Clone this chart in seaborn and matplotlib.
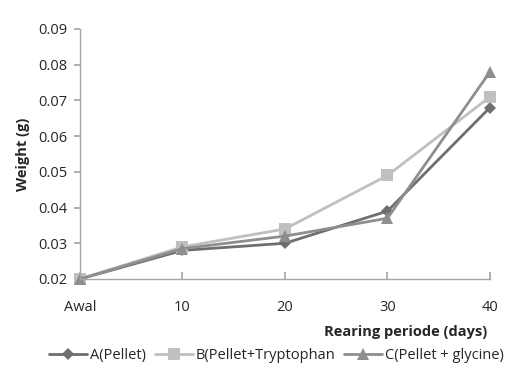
import pandas as pd
import seaborn as sns
import matplotlib.pyplot as plt

# data
periods = ['Awal', '10', '20', '30', '40']
pellet = [0.020, 0.028, 0.030, 0.039, 0.068]
tryptophan = [0.020, 0.029, 0.034, 0.049, 0.071]
glycine = [0.020, 0.0285, 0.032, 0.037, 0.078]
series_names = ['A(Pellet)', 'B(Pellet+Tryptophan', 'C(Pellet + glycine)']
y_ticks = [0.02, 0.03, 0.04, 0.05, 0.06, 0.07, 0.08, 0.09]

rows = []
for name, vals in zip(series_names, [pellet, tryptophan, glycine]):
    for p, v in zip(periods, vals):
        rows.append({'period': p, 'weight': v, 'group': name})
df = pd.DataFrame(rows)

sns.set_theme(style="white")
plt.rcParams['font.family'] = ['Open Sans', 'DejaVu Sans']

fig = plt.figure(figsize=(5.12, 3.76), dpi=100)
ax = fig.add_axes([0.156, 0.258, 0.801, 0.665])

palette = {series_names[0]: '#6e6e6e', series_names[1]: '#c0c0c0', series_names[2]: '#8e8e8e'}
markers = {series_names[0]: 'D', series_names[1]: 's', series_names[2]: '^'}
sizes = {series_names[0]: 6, series_names[1]: 8, series_names[2]: 9}

for name in series_names:
    sub = df[df['group'] == name]
    sns.lineplot(data=sub, x='period', y='weight', color=palette[name], marker=markers[name],
                 markersize=sizes[name], markeredgewidth=0, linewidth=2, label=name,
                 ax=ax, clip_on=False, sort=False)

ax.set_xlim(0, 4)
ax.set_ylim(0.02, 0.09)
ax.set_yticks(y_ticks)
ax.set_yticklabels([f'{t:.2f}' for t in y_ticks])
ax.set_xticks(range(len(periods)))
ax.set_xticklabels(periods)

for s in ['top', 'right']:
    ax.spines[s].set_visible(False)
for s in ['left', 'bottom']:
    ax.spines[s].set_color('#a6a6a6')
    ax.spines[s].set_linewidth(1)

ax.tick_params(axis='y', direction='out', length=4, color='#a6a6a6', labelsize=10.5, pad=5, left=True)
ax.tick_params(axis='x', direction='in', length=5, color='#a6a6a6', labelsize=10.5, pad=15, bottom=True)

ax.set_ylabel('Weight (g)', fontsize=10.5, fontweight='bold', labelpad=6)
ax.set_xlabel('')
fig.text(0.793, 0.117, 'Rearing periode (days)', fontsize=10.5, fontweight='bold', ha='center', va='center')

ax.get_legend().remove()
handles, labels = ax.get_legend_handles_labels()
fig.legend(handles, labels, loc='center', bbox_to_anchor=(0.54, 0.055), ncol=3, frameon=False,
           fontsize=10.5, handlelength=2.6, handletextpad=0.2, columnspacing=0.6)

plt.savefig('out.png', dpi=100)
